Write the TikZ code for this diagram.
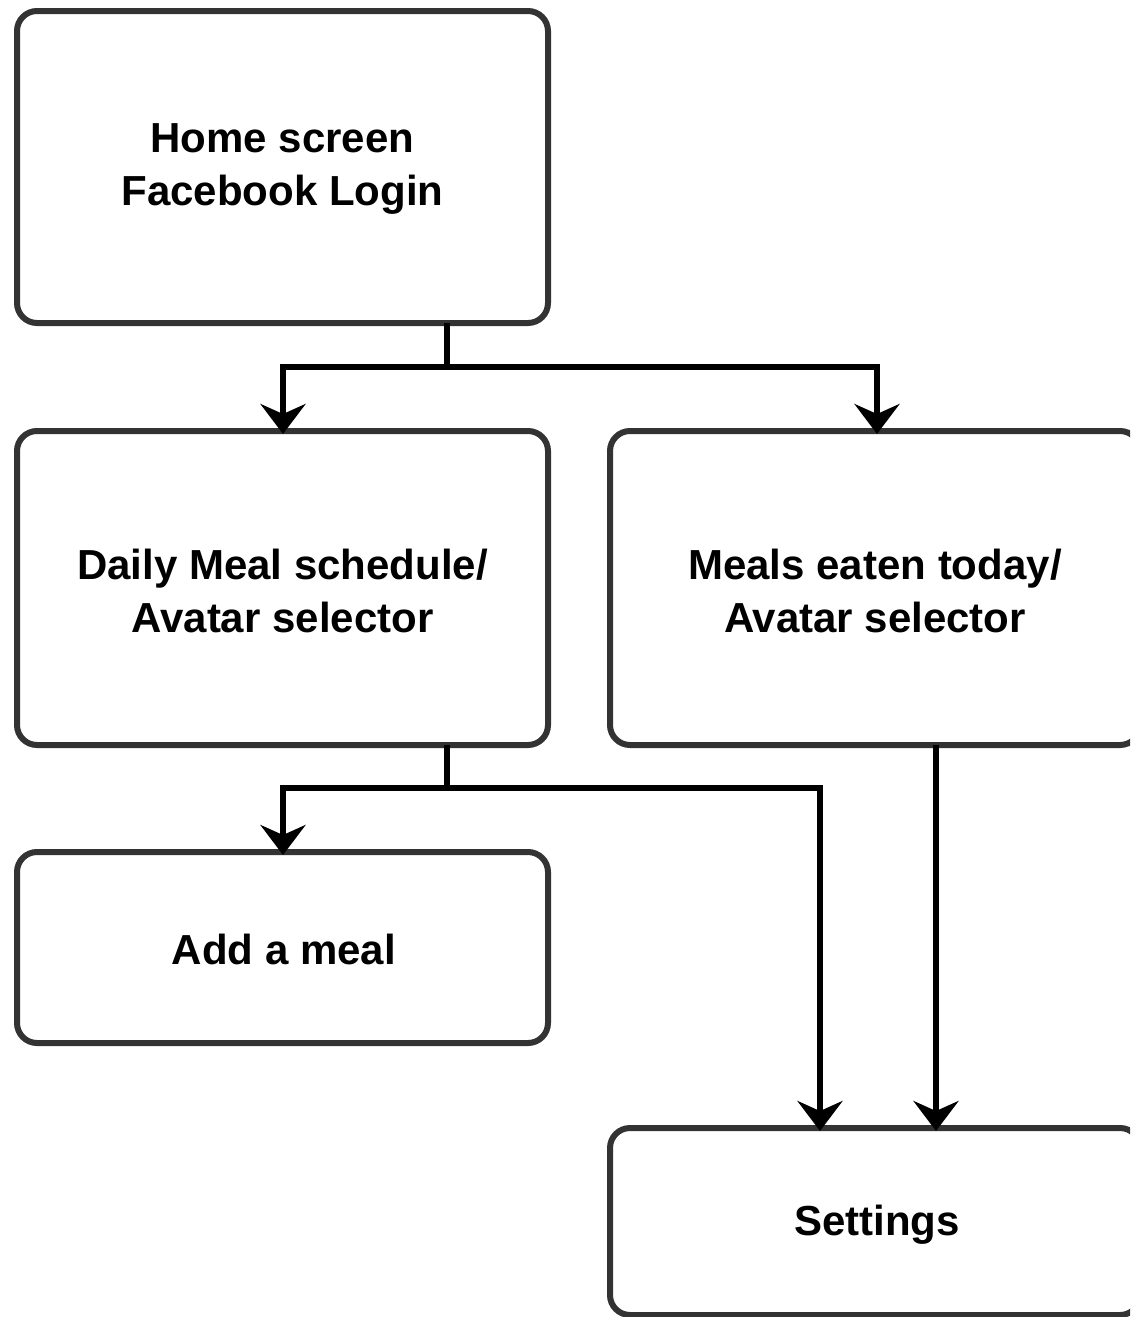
\documentclass[tikz,border=0pt]{standalone}
\usepackage{fontspec}
\setmainfont{Liberation Sans}
\usetikzlibrary{arrows.meta,calc}
\definecolor{boxline}{HTML}{333333}
\begin{document}
\begin{tikzpicture}[x=1pt,y=-1pt,
  screen/.style={draw=boxline,line width=6pt,rounded corners=20pt,outer sep=0pt,inner sep=0pt,
    text depth=0pt,align=center,font=\fontsize{42}{53}\selectfont\bfseries},
  label/.style={align=center,inner sep=0pt,font=\fontsize{42}{53}\selectfont\bfseries},
  conn/.style={draw=black,line width=6pt},
  arr/.style={conn,-{Stealth[length=30pt,width=45pt,inset=10pt]}}]
\useasboundingbox (0,0) rectangle (1130,1317);
\clip (0,0) rectangle (1130,1317);
\node[screen,minimum width=531pt,minimum height=312pt] (home) at (282.5,167) {};
\node[screen,minimum width=531pt,minimum height=314pt] (daily) at (282.5,588) {};
\node[screen,minimum width=530pt,minimum height=314pt] (meals) at (875,588) {};
\node[screen,minimum width=531pt,minimum height=191pt] (add) at (282.5,947.5) {};
\node[screen,minimum width=530pt,minimum height=187pt] (settings) at (875,1221.5) {};
\node[label] (homet) at ([yshift=-2pt]home.center) {Home screen\\Facebook Login};
\node[label] (dailyt) at ([yshift=-3pt]daily.center) {Daily Meal schedule/\\Avatar selector};
\node[label] (mealst) at ([yshift=-3pt]meals.center) {Meals eaten today/\\Avatar selector};
\node[label] (addt) at ([xshift=1.5pt,yshift=-2pt]add.center) {Add a meal};
\node[label] (settingst) at ([xshift=2pt,yshift=-3pt]settings.center) {Settings};
\coordinate (j1) at (447,367);
\coordinate (j2) at (447,788);
\coordinate (s1) at ($(settings.north west)+(210,0)$);
\coordinate (m1) at ($(meals.south west)+(326,0)$);
\draw[conn] (home.south -| j1) -- (j1);
\draw[arr] (j1) -| ([xshift=0.5pt,yshift=-3pt]daily.north);
\draw[arr] (j1) -| ([xshift=2pt,yshift=-3pt]meals.north);
\draw[conn] (daily.south -| j2) -- (j2);
\draw[arr] (j2) -| ([xshift=0.5pt,yshift=-3pt]add.north);
\draw[arr] (j2) -| ([yshift=-3pt]s1);
\draw[arr] (m1) -- ([yshift=-3pt]s1 -| m1);
\end{tikzpicture}
\end{document}
